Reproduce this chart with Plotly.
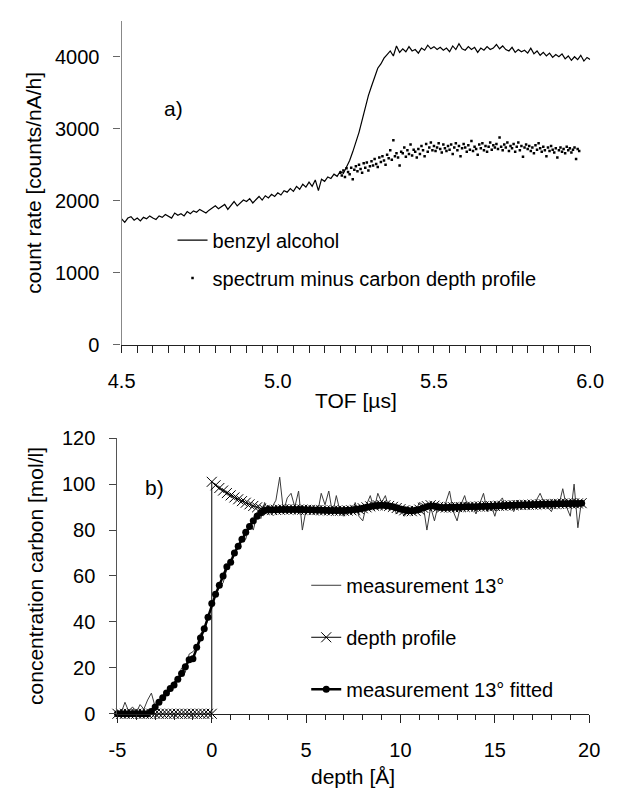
import numpy as np
import plotly.graph_objects as go

# ---------------- data: panel a) ----------------
TOF_START, TOF_STEP = 4.50, 0.01
BENZYL = [
    1750, 1700, 1760, 1780, 1730, 1760, 1720, 1770, 1750, 1790,
    1760, 1740, 1790, 1770, 1810, 1780, 1760, 1830, 1800, 1820,
    1790, 1850, 1820, 1860, 1840, 1880, 1850, 1830, 1870, 1900,
    1930, 1890, 1920, 1950, 1880, 1940, 1990, 1930, 1970, 2010,
    1990, 2030, 1970, 2020, 2060, 2010, 2070, 2040, 2090, 2060,
    2110, 2080, 2140, 2120, 2170, 2130, 2200, 2160, 2230, 2190,
    2260, 2200, 2290, 2140, 2300, 2270, 2330, 2310, 2370, 2340,
    2410, 2380, 2470, 2560, 2680, 2810, 2950, 3120, 3300, 3460,
    3590, 3720, 3840, 3900, 3980, 4030, 4080, 4010, 4150, 4060,
    4110, 4070, 4140, 4080, 4100, 4050, 4120, 4090, 4160, 4110,
    4140, 4100, 4130, 4090, 4120, 4070, 4150, 4100, 4180, 4110,
    4090, 4140, 4100, 4130, 4060, 4120, 4090, 4140, 4100, 4120,
    4170, 4110, 4150, 4100, 4080, 4130, 4060, 4100, 4070, 4090,
    4050, 4120, 4040, 4080, 4020, 4060, 4010, 4050, 3990, 4030,
    4000, 4040, 3970, 4010, 3950, 4000, 3960, 4020, 3940, 3990,
    3960,
]
DOT_START, DOT_STEP = 5.200, 0.005
MINUS_C = [
    2390, 2350, 2420, 2330, 2450, 2400, 2370, 2460, 2300, 2430,
    2480, 2410, 2500, 2440, 2390, 2520, 2460, 2530, 2420, 2480,
    2550, 2490, 2580, 2510, 2470, 2600, 2540, 2620, 2560, 2500,
    2640, 2590, 2700, 2570, 2840, 2620, 2660, 2600, 2490, 2680,
    2660, 2740, 2610, 2700, 2650, 2780, 2630, 2710, 2680, 2600,
    2720, 2650, 2760, 2700, 2620, 2790, 2680, 2740, 2810, 2700,
    2760, 2690, 2740, 2800, 2720, 2670, 2780, 2730, 2690, 2760,
    2710, 2780, 2650, 2740, 2800, 2700, 2760, 2620, 2730, 2790,
    2740, 2680, 2770, 2710, 2830, 2690, 2750, 2720, 2640, 2780,
    2730, 2800, 2700, 2760, 2680, 2750, 2810, 2710, 2770, 2740,
    2790, 2720, 2880, 2750, 2700, 2780, 2740, 2810, 2690, 2760,
    2730, 2790, 2680, 2750, 2810, 2700, 2760, 2610, 2740, 2780,
    2720, 2760, 2690, 2740, 2660, 2770, 2710, 2800, 2730, 2680,
    2750, 2700, 2620, 2740, 2690, 2760, 2710, 2670, 2730, 2600,
    2700, 2740, 2680, 2720, 2660, 2750, 2700, 2730, 2670, 2710,
    2740, 2580, 2720, 2690,
]
TOF_TICKS = [4.5, 5.0, 5.5, 6.0]
TOF_LABELS = ["4.5", "5.0", "5.5", "6.0"]
RATE_TICKS = [0, 1000, 2000, 3000, 4000]

# ---------------- data: panel b) ----------------
DEPTH_START, DEPTH_STEP = -5.0, 0.2
MEAS = [
    0, 0.5, 5, 1, 3, 0.5, 4, 2, 6, 9,
    3, 5, 8, 9, 10, 14, 15, 20, 18, 26,
    27, 29, 35, 36, 42,
    47, 52, 55, 57, 63, 65, 70, 72, 77, 76, 83, 80, 87, 85, 92, 88,
    90, 93, 103, 88, 94, 96, 90, 97, 80, 89,
    88, 90, 87, 96, 91, 97, 87, 95, 88, 86,
    89, 87, 92, 86, 84, 91, 95, 89, 96, 92,
    95, 89, 90, 87, 89, 86, 88, 90, 88, 92,
    91, 80, 90, 84, 91, 89, 92, 97, 88, 84,
    91, 95, 89, 91, 87, 92, 96, 88, 91, 86,
    92, 94, 89, 91, 88, 93, 90, 92, 89, 91,
    93, 96, 92, 90, 88, 93, 91, 98, 90, 86,
    100, 81, 93,
]
DP_NEG = [0] * 26          # -5.0 ... 0.0
DP_POS = [                 # 0.0 ... 19.6
    101, 99.5, 98.3, 97.2, 96.1, 95.1, 94.2, 93.4, 92.6, 91.9,
    91.2, 90.5, 89.9, 89.3, 88.8, 88.4,
    88.7, 88.8, 88.9, 89.0, 89.0, 89.0, 89.0, 88.9, 88.9, 88.8,
    88.8, 88.7, 88.7, 88.6, 88.6, 88.5, 88.5, 88.4, 88.4, 88.4,
    88.5, 88.6, 88.8,
    89.1, 89.5, 89.9, 90.3, 90.6, 90.8, 90.9, 90.8, 90.5, 90.1,
    89.6, 89.1, 88.6, 88.3, 88.2, 88.4, 88.9,
    89.7, 90.4, 90.8, 90.6, 90.1,
    89.8, 89.8, 89.9, 89.9, 90.0, 90.0, 90.1, 90.1, 90.2, 90.2,
    90.3, 90.3, 90.4, 90.4, 90.5, 90.6, 90.6, 90.7, 90.8, 90.8,
    90.9, 90.9, 91.0, 91.0, 91.1, 91.1, 91.2, 91.2, 91.3, 91.3,
    91.4, 91.4, 91.5, 91.5, 91.6, 91.6, 91.6, 91.7,
]
FIT = [
    0, 0, 0, 0, 0, 0, 0, 0, 0,
    1, 3, 5, 7, 9, 11, 12.5, 15, 17.5, 20.5,
    23.5, 24, 29, 33, 37, 42, 48, 52, 56, 60,
    64, 66, 70, 73, 76, 79, 81.5, 84, 86, 87.5,
    88.5, 89,
    88.8, 88.8, 88.9, 89.0, 89.0, 89.0, 89.0, 88.9, 88.9, 88.8,
    88.8, 88.7, 88.7, 88.6, 88.6, 88.5, 88.5, 88.5, 88.5, 88.5,
    88.6, 88.7, 88.9,
    89.2, 89.5, 89.9, 90.2, 90.5, 90.7, 90.8, 90.7, 90.5, 90.1,
    89.7, 89.2, 88.8, 88.5, 88.4, 88.6, 89.0,
    89.6, 90.2, 90.5, 90.4, 90.0,
    89.8, 89.8, 89.9, 89.9, 90.0, 90.0, 90.1, 90.1, 90.2, 90.2,
    90.3, 90.3, 90.4, 90.4, 90.5, 90.6, 90.6, 90.7, 90.8, 90.8,
    90.9, 90.9, 91.0, 91.0, 91.1, 91.1, 91.2, 91.2, 91.3, 91.3,
    91.4, 91.4, 91.5, 91.5, 91.6, 91.6, 91.6, 91.7,
]
DEPTH_TICKS = [-5, 0, 5, 10, 15, 20]
DEPTH_LABELS = ["-5", "0", "5", "10", "15", "20"]
CONC_TICKS = [0, 20, 40, 60, 80, 100, 120]

# ---------------- derived x grids ----------------
tof = np.round(TOF_START + TOF_STEP * np.arange(len(BENZYL)), 4)
tof_dots = np.round(DOT_START + DOT_STEP * np.arange(len(MINUS_C)), 4)
depth = np.round(DEPTH_START + DEPTH_STEP * np.arange(len(MEAS)), 4)
n_neg = len(DP_NEG)
depth_dp = np.concatenate([depth[:n_neg], depth[n_neg - 1:n_neg - 1 + len(DP_POS)]])
dp_vals = DP_NEG + DP_POS

W, H = 622, 798
FONT = "Liberation Sans, Arial, sans-serif"
FS = 20      # tick labels / legend
FS_T = 21    # axis titles


def px(x):
    return x / W


def py(y):
    return 1 - y / H


fig = go.Figure()

# panel a
fig.add_trace(go.Scatter(x=tof, y=BENZYL, mode="lines", name="benzyl alcohol",
                         line=dict(color="black", width=1.2),
                         xaxis="x", yaxis="y", legend="legend", legendgroup="a1"))
fig.add_trace(go.Scatter(x=tof_dots, y=MINUS_C, mode="markers",
                         name="spectrum minus carbon depth profile",
                         marker=dict(color="black", size=2.5, symbol="square"),
                         xaxis="x", yaxis="y", legend="legend", legendgroup="a2"))

# panel b
fig.add_trace(go.Scatter(x=depth, y=MEAS, mode="lines", name="measurement 13°",
                         line=dict(color="#3a3a3a", width=1),
                         xaxis="x2", yaxis="y2", legend="legend2", legendgroup="b1"))
fig.add_trace(go.Scatter(x=depth_dp, y=dp_vals, mode="lines+markers", name="depth profile",
                         line=dict(color="black", width=1),
                         marker=dict(symbol="x-thin", size=10, color="black",
                                     line=dict(color="black", width=1)),
                         cliponaxis=False,
                         xaxis="x2", yaxis="y2", legend="legend2", legendgroup="b2"))
fig.add_trace(go.Scatter(x=depth, y=FIT, mode="lines+markers", name="measurement 13° fitted",
                         line=dict(color="black", width=2.5),
                         marker=dict(symbol="circle", size=7, color="black"),
                         cliponaxis=False,
                         xaxis="x2", yaxis="y2", legend="legend2", legendgroup="b3"))

tickfont = dict(family=FONT, size=FS, color="black")

fig.update_layout(
    width=W, height=H,
    margin=dict(l=0, r=0, t=0, b=0),
    paper_bgcolor="white", plot_bgcolor="white",
    font=dict(family=FONT, size=FS, color="black"),
    xaxis=dict(domain=[px(112.7), px(603.3)], anchor="y", range=[4.5, 6.0],
               tickmode="array", tickvals=TOF_TICKS, ticktext=TOF_LABELS,
               ticks="outside", ticklen=7, tickcolor="#222", tickwidth=1,
               minor=dict(tickmode="linear", tick0=4.5, dtick=0.05, ticks="outside",
                          ticklen=7, tickcolor="#222", tickwidth=1, showgrid=False),
               showline=True, linecolor="#222", linewidth=1.3,
               showgrid=False, zeroline=False, tickfont=tickfont, ticklabelstandoff=11),
    yaxis=dict(domain=[py(343.3), py(10)], anchor="x", range=[0, 4500],
               tickmode="array", tickvals=RATE_TICKS,
               ticks="outside", ticklen=7, tickcolor="#666", tickwidth=1,
               showline=True, linecolor="#888", linewidth=1.3,
               showgrid=False, zeroline=False, tickfont=tickfont, ticklabelstandoff=10),
    xaxis2=dict(domain=[px(108.3), px(602.3)], anchor="y2", range=[-5, 20],
                tickmode="array", tickvals=DEPTH_TICKS, ticktext=DEPTH_LABELS,
                ticks="outside", ticklen=8, tickcolor="#222", tickwidth=1,
                minor=dict(tickmode="linear", tick0=-5, dtick=1, ticks="outside",
                           ticklen=5, tickcolor="#222", tickwidth=1, showgrid=False),
                showline=True, linecolor="#222", linewidth=1.3,
                showgrid=False, zeroline=False, tickfont=tickfont, ticklabelstandoff=10),
    yaxis2=dict(domain=[py(722.7), py(439.3)], anchor="x2", range=[0, 120],
                tickmode="array", tickvals=CONC_TICKS,
                ticks="outside", ticklen=7, tickcolor="#444", tickwidth=1,
                showline=True, linecolor="#555", linewidth=1.3,
                showgrid=False, zeroline=False, tickfont=tickfont, ticklabelstandoff=10),
    legend=dict(x=px(166), y=py(215.5), xanchor="left", yanchor="top",
                bgcolor="rgba(0,0,0,0)", font=dict(family=FONT, size=FS),
                tracegroupgap=9, itemwidth=30, borderwidth=0),
    legend2=dict(x=px(306), y=py(570.5), xanchor="left", yanchor="top",
                 bgcolor="rgba(0,0,0,0)", font=dict(family=FONT, size=FS),
                 tracegroupgap=23, itemwidth=30, borderwidth=0),
    showlegend=True,
)

annots = [
    dict(text="a)", x=px(167), y=py(100), size=21),
    dict(text="b)", x=px(147), y=py(490), size=21),
    dict(text="TOF [µs]", x=px(358), y=py(401), size=FS_T),
    dict(text="depth [Å]", x=px(355), y=py(787), size=FS_T),
    dict(text="count rate [counts/nA/h]", x=px(20.5), y=py(177), size=FS_T, textangle=-90),
    dict(text="concentration carbon [mol/l]", x=px(23), y=py(581), size=FS_T, textangle=-90),
]
for a in annots:
    size = a.pop("size")
    fig.add_annotation(xref="paper", yref="paper", showarrow=False,
                       xanchor="center", yanchor="middle",
                       font=dict(family=FONT, size=size, color="black"), **a)

fig.write_html("out.html", config={"displayModeBar": False},
               post_script="document.body.style.margin='0';")
